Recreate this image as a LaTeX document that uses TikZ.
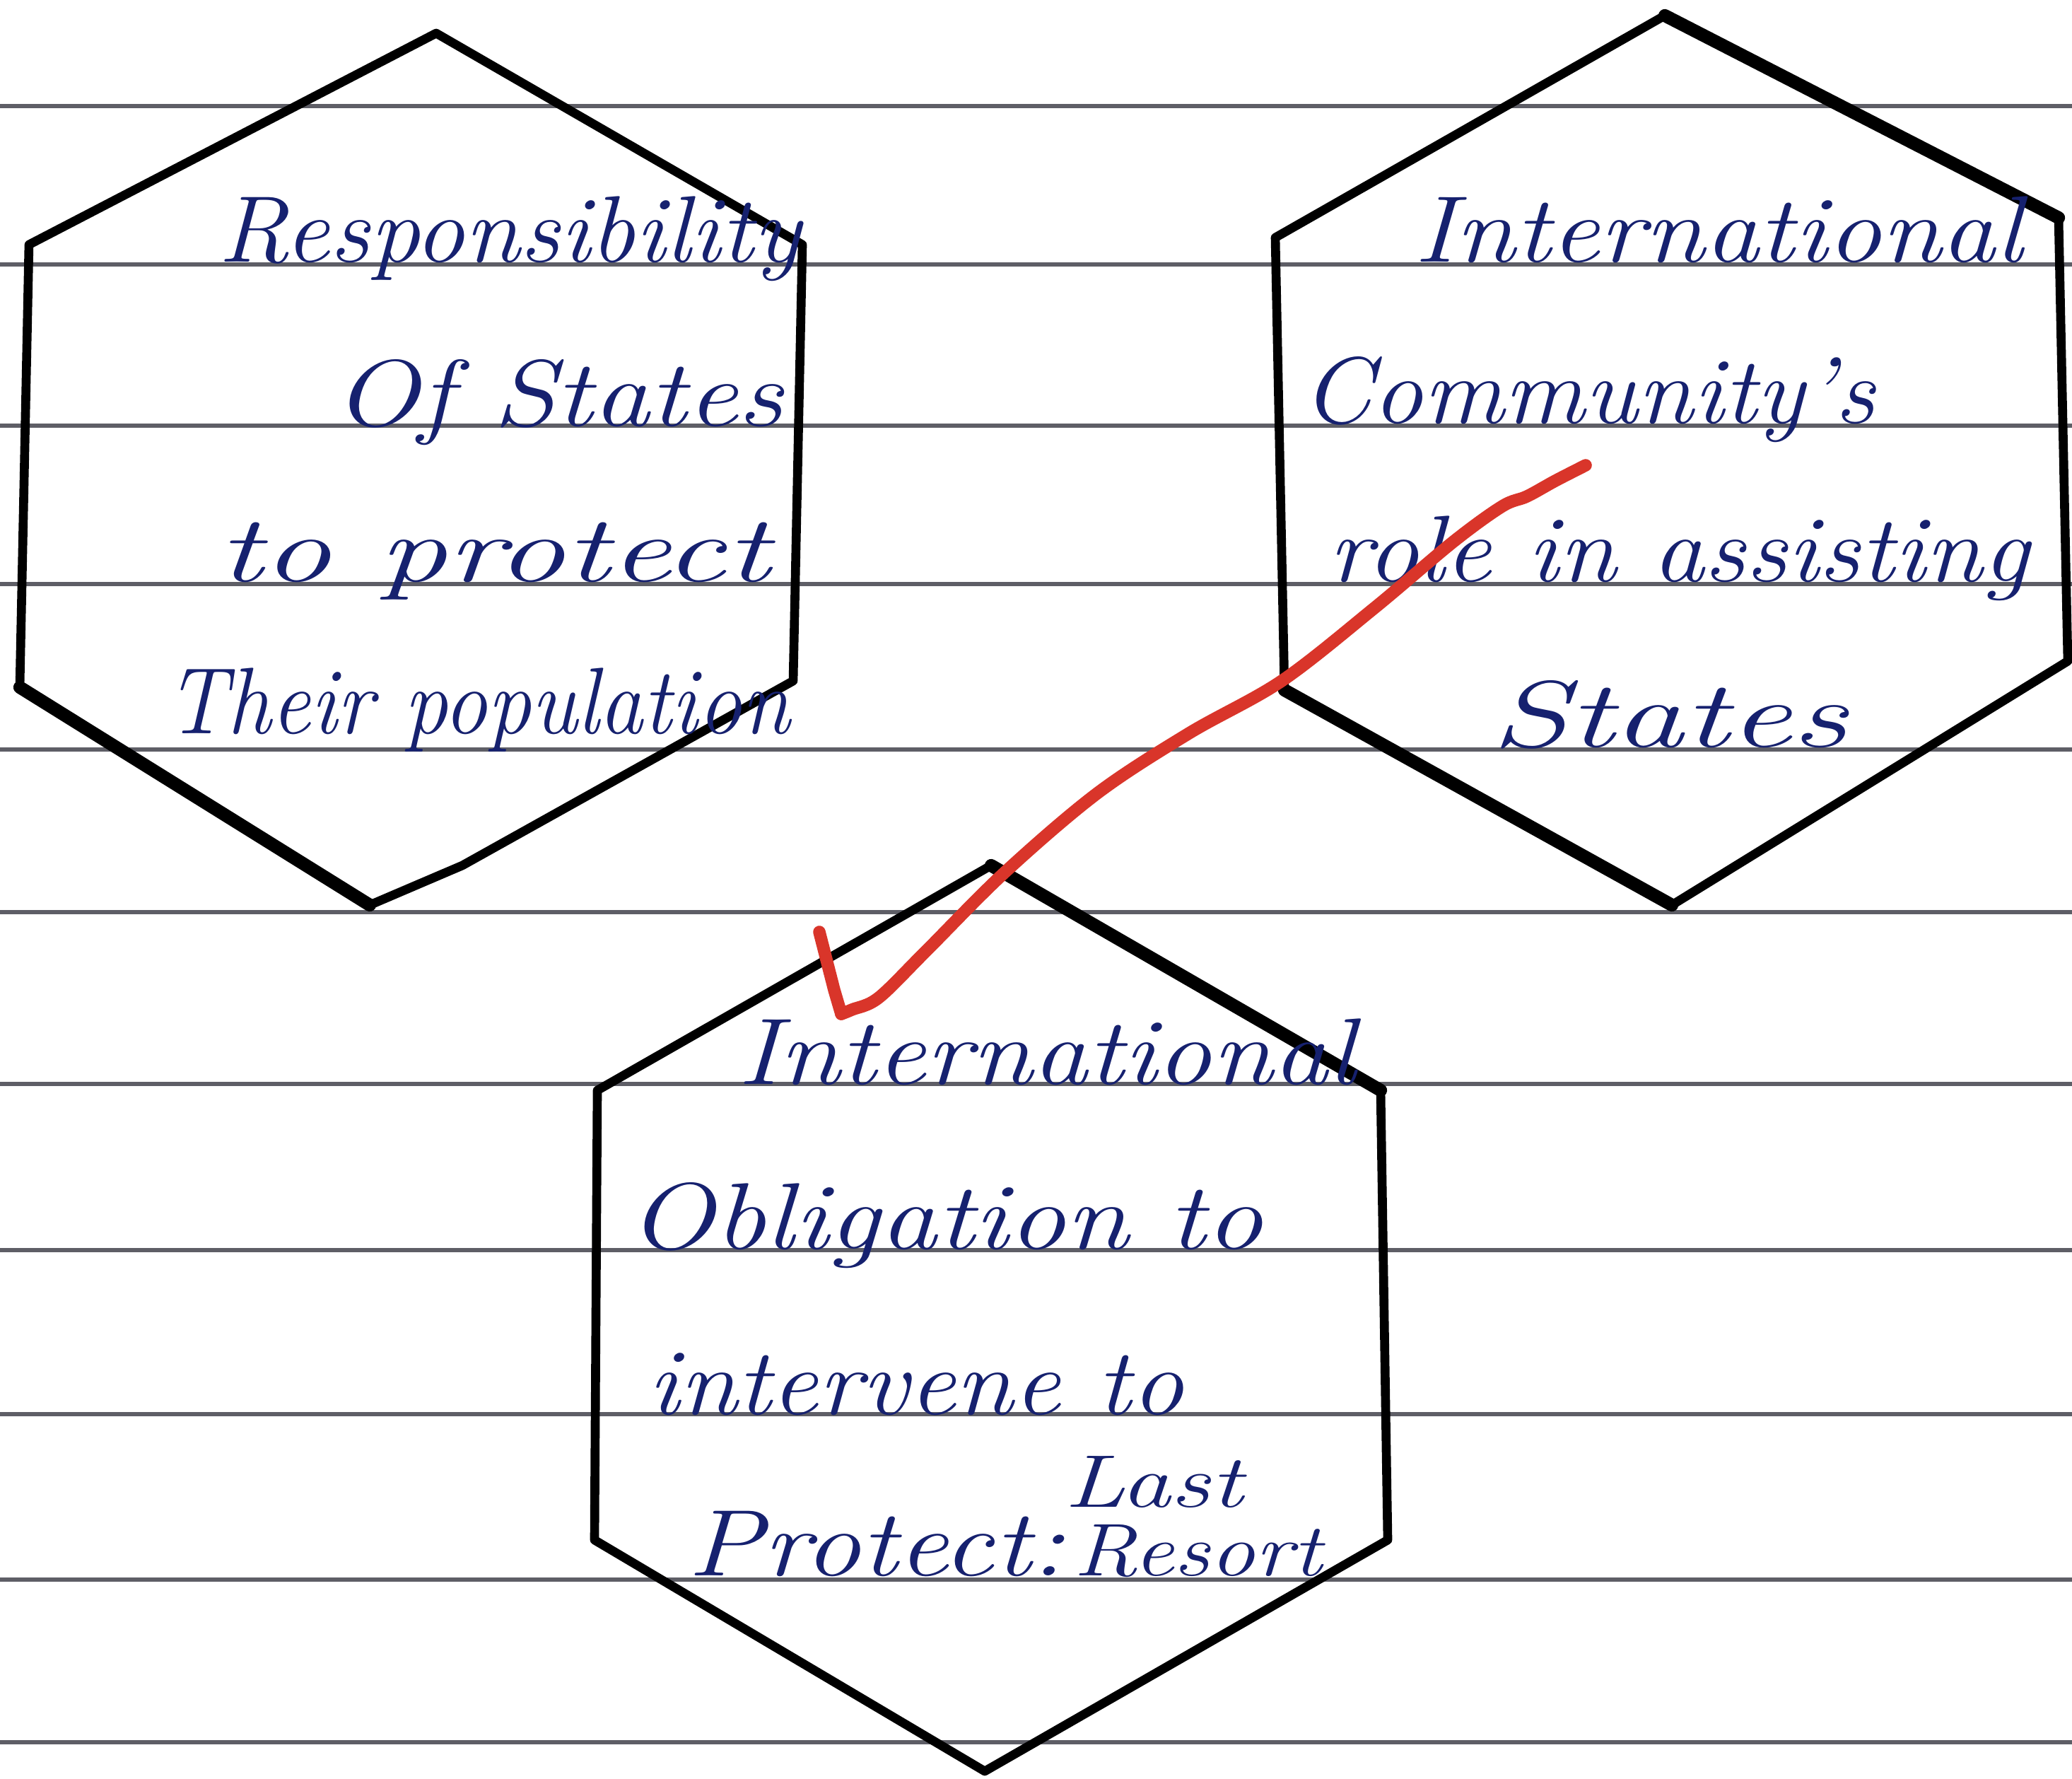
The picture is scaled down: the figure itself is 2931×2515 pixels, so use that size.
\documentclass[tikz,border=0pt]{standalone}
\usepackage{fontspec}
\usepackage{graphicx}
\definecolor{rulegray}{HTML}{5E5E66}
\definecolor{inkblue}{HTML}{16216F}
\definecolor{redink}{HTML}{D9352A}
\newcommand\hwfit[2]{\resizebox{#1}{\height}{#2}}
\tikzset{
  ruled/.style={line width=1.7pt, draw=rulegray},
  hexline/.style={line width=3.6pt, line join=round, line cap=round, draw=black},
  hexthick/.style={line width=5.2pt, line cap=round, draw=black},
  redpen/.style={line width=5pt, draw=redink, line cap=round, line join=round},
  hand/.style={text=inkblue, inner sep=0pt, anchor=base west, font=\fontsize{38}{40}\selectfont\itshape},
  handsmall/.style={hand, font=\fontsize{30}{32}\selectfont\itshape},
}
\begin{document}
\begin{tikzpicture}[x=0.01cm, y=-0.01cm]
\useasboundingbox (0,0) rectangle (2931,2515);
\fill[white] (0,0) rectangle (2931,2515);
% ruled lines
\foreach \yy in {150,374,602,826,1060,1290,1533,1768,2000,2234,2464}
  \draw[ruled] (0,\yy) -- (2931,\yy);
% hexagon 1
\coordinate (h1t) at (617,47);
\coordinate (h1ur) at (1135,346);
\coordinate (h1lr) at (1122,963);
\coordinate (h1k) at (654,1224);
\coordinate (h1b) at (523,1280);
\coordinate (h1ll) at (28,972);
\coordinate (h1ul) at (41,346);
\draw[hexline] (h1t) -- (h1ur) -- (h1lr) -- (h1k) -- (h1b) -- (h1ll) -- (h1ul) -- cycle;
\draw[hexthick] (h1b) -- (h1ll);
% hexagon 2
\coordinate (h2t) at (2355,22);
\coordinate (h2ur) at (2912,308);
\coordinate (h2lr) at (2925,935);
\coordinate (h2b) at (2365,1280);
\coordinate (h2ll) at (1817,976);
\coordinate (h2ul) at (1804,336);
\draw[hexline] (h2t) -- (h2ur) -- (h2lr) -- (h2b) -- (h2ll) -- (h2ul) -- cycle;
\draw[hexthick] (h2ll) -- (h2b);
\draw[hexthick] (h2t) -- (h2ur);
% hexagon 3
\coordinate (h3t) at (1402,1224);
\coordinate (h3ur) at (1953,1542);
\coordinate (h3lr) at (1963,2178);
\coordinate (h3b) at (1393,2505);
\coordinate (h3ll) at (841,2178);
\coordinate (h3ul) at (845,1542);
\draw[hexline] (h3t) -- (h3ur) -- (h3lr) -- (h3b) -- (h3ll) -- (h3ul) -- cycle;
\draw[hexthick] (h3t) -- (h3ur);
% texts hexagon 1
\node[hand] (a1) at (308,370) {\hwfit{8.23cm}{Responsibility}};
\node[hand] (a2) at (471,602) {\hwfit{6.36cm}{Of States}};
\node[hand] (a3) at (308,822) {\hwfit{7.80cm}{to protect}};
\node[hand] (a4) at (234,1037) {\hwfit{8.82cm}{Their population}};
% texts hexagon 2
\node[hand] (b1) at (2000,370) {\hwfit{8.60cm}{International}};
\node[hand] (b2) at (1841,598) {\hwfit{8.10cm}{Community's}};
\node[hand] (b3) at (1879,822) {\hwfit{9.90cm}{role in assisting}};
\node[hand] (b4) at (2109,1056) {\hwfit{5.04cm}{States}};
% texts hexagon 3
\node[hand] (c1) at (1043,1533) {\hwfit{8.73cm}{International}};
\node[hand] (c2) at (888,1766) {\hwfit{8.97cm}{Obligation to}};
\node[hand] (c3) at (916,2000) {\hwfit{7.57cm}{intervene to}};
\node[handsmall] (c4) at (1505,2131) {\hwfit{2.52cm}{Last}};
\node[hand] (c5) at (972,2228) {\hwfit{5.33cm}{Protect:}};
\node[handsmall] (c6) at (1518,2228) {\hwfit{3.51cm}{Resort}};
% red arrow
\coordinate (redstart) at (2243,658);
\coordinate (redtip) at (1190,1434);
\coordinate (redhook) at (1159,1318);
\draw[redpen] plot[smooth, tension=0.55] coordinates {(redstart) (2200,680) (2160,702) (2125,716) (2056,766) (1944,860) (1813,963) (1682,1037) (1552,1122) (1421,1234) (1309,1346) (1243,1411) (1205,1428) (redtip)};
\draw[redpen] (redtip) -- (1180,1400) -- (redhook);
\end{tikzpicture}
\end{document}
